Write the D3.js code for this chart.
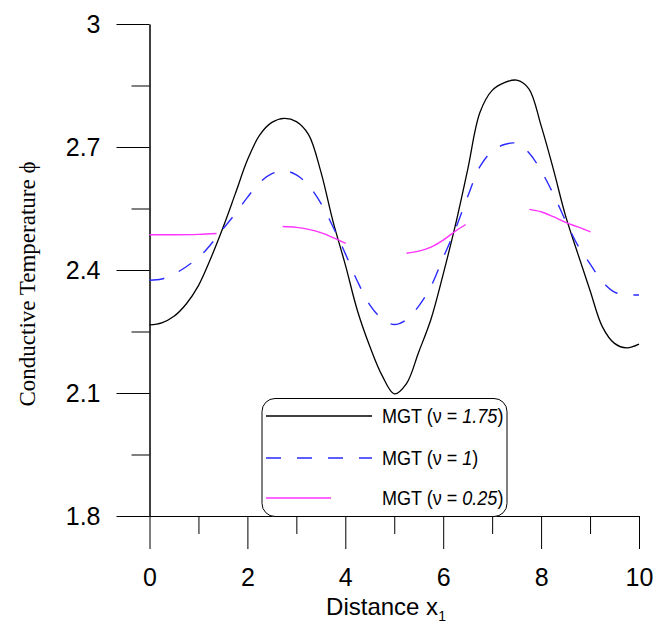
<!DOCTYPE html>
<html>
<head>
<meta charset="utf-8">
<script src="https://cdn.jsdelivr.net/npm/d3@7/dist/d3.min.js"></script>
<style>
  html, body { margin: 0; padding: 0; background: #fff; }
  svg { display: block; }
</style>
</head>
<body>
<svg id="chart" width="657" height="626"></svg>
<script>
// Sample positions along x1
const xs = [0, 0.25, 0.5, 0.75, 1, 1.25, 1.5, 1.75, 2, 2.25, 2.5, 2.75, 3, 3.25, 3.5, 3.75, 4,
  4.25, 4.5, 4.75, 5, 5.25, 5.5, 5.75, 6, 6.25, 6.5, 6.75, 7, 7.25, 7.5, 7.75, 8, 8.25,
  8.5, 8.75, 9, 9.25, 9.5, 9.75, 10];

// MGT, nu = 1.75
const phiNu175 = [2.266, 2.271, 2.287, 2.317, 2.362, 2.428, 2.503, 2.585, 2.668, 2.729, 2.760,
  2.770, 2.762, 2.730, 2.640, 2.518, 2.413, 2.300, 2.214, 2.143, 2.098, 2.123, 2.200, 2.280,
  2.390, 2.510, 2.645, 2.784, 2.838, 2.857, 2.863, 2.842, 2.752, 2.646, 2.532, 2.440, 2.350,
  2.262, 2.221, 2.210, 2.219];

// MGT, nu = 1
const phiNu1 = [2.375, 2.378, 2.390, 2.408, 2.430, 2.462, 2.500, 2.537, 2.577, 2.613, 2.635,
  2.642, 2.632, 2.606, 2.563, 2.505, 2.440, 2.372, 2.315, 2.281, 2.267, 2.279, 2.312, 2.360,
  2.430, 2.500, 2.579, 2.652, 2.690, 2.706, 2.709, 2.686, 2.642, 2.585, 2.520, 2.460, 2.415,
  2.372, 2.346, 2.340, 2.339];

// MGT, nu = 0.25 (four separate pieces)
const nu025X = [
  [0, 0.5, 1.0, 1.37],
  [2.72, 3.0, 3.25, 3.5, 3.75, 4.01],
  [5.25, 5.5, 5.75, 6.0, 6.25, 6.46],
  [7.76, 8.0, 8.25, 8.5, 8.75, 9.01]
];
const nu025Phi = [
  [2.486, 2.486, 2.487, 2.489],
  [2.506, 2.504, 2.499, 2.491, 2.479, 2.465],
  [2.441, 2.446, 2.456, 2.473, 2.495, 2.511],
  [2.548, 2.542, 2.530, 2.516, 2.505, 2.493]
];

// Axis ticks
const xMajor = [0, 2, 4, 6, 8, 10];
const xMinor = [1, 3, 5, 7, 9];
const yMajor = [1.8, 2.1, 2.4, 2.7, 3];
const yMinor = [1.95, 2.25, 2.55, 2.85];
const yTickLabels = ["1.8", "2.1", "2.4", "2.7", "3"];

// Legend entries
const legendNames = ["1.75", "1", "0.25"];
const legendColors = ["#000000", "#2a2aff", "#ff33ff"];
const legendDash = [null, "15,16", null];

const svg = d3.select("#chart");
const x = d3.scaleLinear().domain([0, 10]).range([149.5, 639]);
const y = d3.scaleLinear().domain([1.8, 3]).range([516, 24]);

const SANS = "'Liberation Sans', Arial, sans-serif";
const SERIF = "'Liberation Serif', 'Times New Roman', serif";

// Axes
svg.append("g").attr("transform", "translate(0,516)")
  .call(d3.axisBottom(x).tickValues(xMajor).tickSize(33).tickSizeOuter(0).tickPadding(19)
    .tickFormat(d3.format("d")));
svg.append("g").attr("transform", "translate(0,516)")
  .call(d3.axisBottom(x).tickValues(xMinor).tickSize(18).tickSizeOuter(0).tickFormat(""));

svg.append("g").attr("transform", "translate(149.5,0)")
  .call(d3.axisLeft(y).tickValues(yMajor).tickSize(33).tickSizeOuter(0).tickPadding(16)
    .tickFormat((d, i) => yTickLabels[i]));
svg.append("g").attr("transform", "translate(149.5,0)")
  .call(d3.axisLeft(y).tickValues(yMinor).tickSize(18).tickSizeOuter(0).tickFormat(""));

svg.selectAll(".domain, .tick line").attr("stroke", "#000").attr("stroke-width", 1);
svg.selectAll(".tick text").attr("fill", "#000")
  .style("font-family", SANS).style("font-size", "25px");

// Axis titles
const xt = svg.append("text")
  .attr("x", 386).attr("y", 615)
  .attr("text-anchor", "middle")
  .style("font-family", SANS).style("font-size", "24px").attr("fill", "#000");
xt.append("tspan").text("Distance x");
xt.append("tspan").attr("dy", 6).style("font-size", "14px").text("1");

svg.append("text")
  .attr("transform", "translate(35,284) rotate(-90)")
  .attr("text-anchor", "middle")
  .style("font-family", SERIF).style("font-size", "23px").attr("fill", "#000")
  .text("Conductive Temperature \u03D5");

// Curves
const line = d3.line().x(d => x(d[0])).y(d => y(d[1])).curve(d3.curveCatmullRom.alpha(0.5));

svg.append("path")
  .attr("d", line(xs.map((v, i) => [v, phiNu175[i]])))
  .attr("fill", "none").attr("stroke", legendColors[0]).attr("stroke-width", 1.3);

svg.append("path")
  .attr("d", line(xs.map((v, i) => [v, phiNu1[i]])))
  .attr("fill", "none").attr("stroke", legendColors[1]).attr("stroke-width", 1.4)
  .attr("stroke-dasharray", legendDash[1]);

nu025X.forEach((seg, k) => {
  svg.append("path")
    .attr("d", line(seg.map((v, i) => [v, nu025Phi[k][i]])))
    .attr("fill", "none").attr("stroke", legendColors[2]).attr("stroke-width", 1.4);
});

// Legend
const lg = svg.append("g");
lg.append("rect")
  .attr("x", 262).attr("y", 398.5).attr("width", 245).attr("height", 118)
  .attr("rx", 13).attr("ry", 13)
  .attr("fill", "#fff").attr("stroke", "#000").attr("stroke-width", 1);

const rowY = [416, 458, 498];
const lineEnd = [372, 372, 331];
legendNames.forEach((name, i) => {
  lg.append("line")
    .attr("x1", 266).attr("x2", lineEnd[i]).attr("y1", rowY[i]).attr("y2", rowY[i])
    .attr("stroke", legendColors[i]).attr("stroke-width", 1.4)
    .attr("stroke-dasharray", legendDash[i]);
  const t = lg.append("text")
    .attr("transform", `translate(382,${rowY[i] + 7}) scale(0.88,1)`)
    .style("font-family", SANS).style("font-size", "20.5px").attr("fill", "#000");
  t.append("tspan").text("MGT (\u03BD = ");
  t.append("tspan").style("font-style", "italic").text(name);
  t.append("tspan").text(")");
});
</script>
</body>
</html>
